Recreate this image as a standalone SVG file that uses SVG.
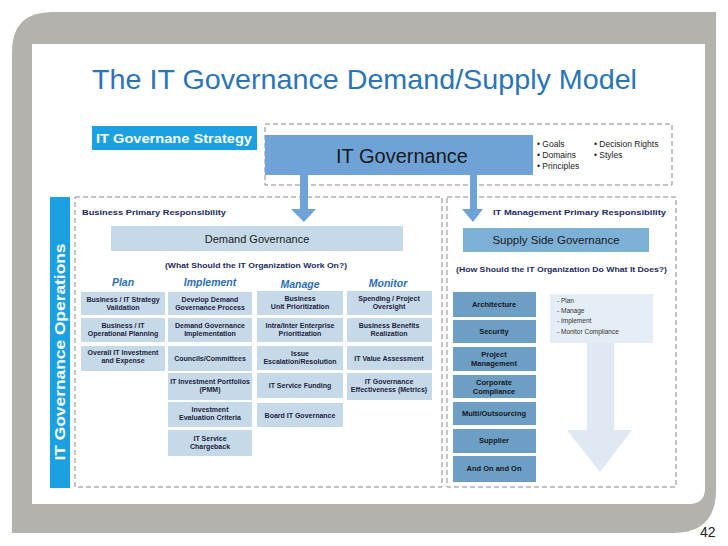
<svg xmlns="http://www.w3.org/2000/svg" width="728" height="546" viewBox="0 0 728 546">
<defs>
<style>
.bg{fill:#b4b2ac}
.dash{fill:none;stroke:#8a8a8a;stroke-width:1;stroke-dasharray:5 3}
.cell{fill:#c6d9e8}
.sup{fill:#6d9fc4}
.t{font-family:"Liberation Sans",Arial,sans-serif;font-weight:bold;font-size:7px;fill:#1d2340;text-anchor:middle}
.ts{font-family:"Liberation Sans",Arial,sans-serif;font-weight:bold;font-size:7.5px;fill:#15171c;text-anchor:middle}
.hd{font-family:"Liberation Sans",Arial,sans-serif;font-weight:bold;font-style:italic;font-size:10.5px;fill:#2a6fb3;text-anchor:middle}
.nv{font-family:"Liberation Sans",Arial,sans-serif;font-weight:bold;font-size:8px;fill:#1d2a5e}
.bul{font-family:"Liberation Sans",Arial,sans-serif;font-size:8.5px;fill:#222}
.arr{fill:#6fa3d8}
</style>
</defs>
<rect width="728" height="546" fill="#ffffff"/>
<path class="bg" d="M52,12 H716 V490 Q716,533 673,533 H12 V52 Q12,12 52,12 Z"/>
<path d="M32,44 H705 V488 Q705,504 689,504 H32 Z" fill="#ffffff"/>
<text x="92" y="89" font-family="Liberation Sans,Arial,sans-serif" font-size="28" fill="#2b74b6" textLength="545" lengthAdjust="spacingAndGlyphs">The IT Governance Demand/Supply Model</text>
<text x="700" y="537" font-family="Liberation Sans,Arial,sans-serif" font-size="14" fill="#222">42</text>

<g id="strategy-label">
<rect x="92" y="126" width="165" height="24" fill="#1ba0e2"/>
<text x="96" y="143" font-family="Liberation Sans,Arial,sans-serif" font-weight="bold" font-size="13" fill="#ffffff" textLength="156" lengthAdjust="spacingAndGlyphs">IT Governane Strategy</text>
</g>
<g id="strategy-box">
<rect class="dash" x="265" y="124" width="407" height="61"/>
</g>
<g id="it-governance">
<rect x="265" y="135" width="268" height="40" fill="#6fa3d8"/>
<text x="402" y="163" font-family="Liberation Sans,Arial,sans-serif" font-size="20" fill="#1a1a1a" text-anchor="middle">IT Governance</text>
</g>
<g id="governance-bullets">
<text class="bul" x="537" y="147">• Goals</text>
<text class="bul" x="537" y="158">• Domains</text>
<text class="bul" x="537" y="169">• Principles</text>
<text class="bul" x="594" y="147">• Decision Rights</text>
<text class="bul" x="594" y="158">• Styles</text>
</g>

<g id="operations-label">
<rect x="50" y="197" width="20" height="291" fill="#1ba0e2"/>
<text transform="translate(65,352) rotate(-90)" font-family="Liberation Sans,Arial,sans-serif" font-weight="bold" font-size="14.5" fill="#ffffff" text-anchor="middle" textLength="217" lengthAdjust="spacingAndGlyphs">IT Governance Operations</text>
</g>

<g id="business-area">
<rect class="dash" x="75" y="197" width="367" height="290"/>
<text class="nv" x="82" y="215" textLength="144" lengthAdjust="spacingAndGlyphs">Business Primary Responsibility</text>
</g>
<g id="it-mgmt-area">
<rect class="dash" x="447" y="197" width="229" height="290"/>
<text class="nv" x="493" y="215" textLength="173" lengthAdjust="spacingAndGlyphs">IT Management Primary Responsibility</text>
</g>

<g id="demand-governance">
<rect x="111" y="226" width="292" height="25" fill="#c6d9e8"/>
<text x="257" y="243" font-family="Liberation Sans,Arial,sans-serif" font-size="11" fill="#1a1a1a" text-anchor="middle">Demand Governance</text>
<text class="nv" x="165" y="268" textLength="182" lengthAdjust="spacingAndGlyphs">(What Should the IT Organization Work On?)</text>
</g>

<g id="headers">
<text class="hd" x="123" y="286">Plan</text>
<text class="hd" x="210" y="286">Implement</text>
<text class="hd" x="300" y="288">Manage</text>
<text class="hd" x="388" y="287">Monitor</text>
</g>

<g id="plan-1"><rect class="cell" x="81" y="292" width="84" height="23"/><text class="t" x="123" y="302">Business / IT Strategy</text><text class="t" x="123" y="310">Validation</text></g>
<g id="plan-2"><rect class="cell" x="81" y="318" width="84" height="24"/><text class="t" x="123" y="328">Business / IT</text><text class="t" x="123" y="336">Operational Planning</text></g>
<g id="plan-3"><rect class="cell" x="81" y="346" width="84" height="25"/><text class="t" x="123" y="355">Overall IT Investment</text><text class="t" x="123" y="363">and Expense</text></g>

<g id="impl-1"><rect class="cell" x="168" y="292" width="84" height="23"/><text class="t" x="210" y="302">Develop Demand</text><text class="t" x="210" y="310">Governance Process</text></g>
<g id="impl-2"><rect class="cell" x="168" y="318" width="84" height="24"/><text class="t" x="210" y="328">Demand Governance</text><text class="t" x="210" y="336">Implementation</text></g>
<g id="impl-3"><rect class="cell" x="168" y="346" width="84" height="25"/><text class="t" x="210" y="361">Councils/Committees</text></g>
<g id="impl-4"><rect class="cell" x="168" y="373" width="84" height="27"/><text class="t" x="210" y="384">IT Investment Portfolios</text><text class="t" x="210" y="392">(PMM)</text></g>
<g id="impl-5"><rect class="cell" x="168" y="402" width="84" height="25"/><text class="t" x="210" y="412">Investment</text><text class="t" x="210" y="420">Evaluation Criteria</text></g>
<g id="impl-6"><rect class="cell" x="168" y="430" width="84" height="26"/><text class="t" x="210" y="441">IT Service</text><text class="t" x="210" y="449">Chargeback</text></g>

<g id="manage-1"><rect class="cell" x="257" y="291" width="86" height="24"/><text class="t" x="300" y="301">Business</text><text class="t" x="300" y="309">Unit Prioritization</text></g>
<g id="manage-2"><rect class="cell" x="257" y="318" width="86" height="24"/><text class="t" x="300" y="328">Intra/Inter Enterprise</text><text class="t" x="300" y="336">Prioritization</text></g>
<g id="manage-3"><rect class="cell" x="257" y="346" width="86" height="24"/><text class="t" x="300" y="356">Issue</text><text class="t" x="300" y="364">Escalation/Resolution</text></g>
<g id="manage-4"><rect class="cell" x="257" y="373" width="86" height="25"/><text class="t" x="300" y="388">IT Service Funding</text></g>
<g id="manage-5"><rect class="cell" x="257" y="403" width="86" height="24"/><text class="t" x="300" y="418">Board IT Governance</text></g>

<g id="monitor-1"><rect class="cell" x="347" y="291" width="85" height="24"/><text class="t" x="389" y="301">Spending / Project</text><text class="t" x="389" y="309">Oversight</text></g>
<g id="monitor-2"><rect class="cell" x="347" y="318" width="85" height="24"/><text class="t" x="389" y="328">Business Benefits</text><text class="t" x="389" y="336">Realization</text></g>
<g id="monitor-3"><rect class="cell" x="347" y="346" width="85" height="24"/><text class="t" x="389" y="361">IT Value Assessment</text></g>
<g id="monitor-4"><rect class="cell" x="347" y="373" width="85" height="27"/><text class="t" x="389" y="384">IT Governance</text><text class="t" x="389" y="392">Effectiveness (Metrics)</text></g>

<g id="supply-governance">
<rect x="463" y="228" width="186" height="24" fill="#7cb0d6"/>
<text x="556" y="244" font-family="Liberation Sans,Arial,sans-serif" font-size="11.5" fill="#1a1a1a" text-anchor="middle">Supply Side Governance</text>
<text class="nv" x="456" y="272" textLength="211" lengthAdjust="spacingAndGlyphs">(How Should the IT Organization Do What It Does?)</text>
</g>

<g id="sup-1"><rect class="sup" x="453" y="292" width="83" height="25"/><text class="ts" x="494" y="307">Architecture</text></g>
<g id="sup-2"><rect class="sup" x="453" y="320" width="83" height="23"/><text class="ts" x="494" y="334">Security</text></g>
<g id="sup-3"><rect class="sup" x="453" y="347" width="83" height="24"/><text class="ts" x="494" y="357">Project</text><text class="ts" x="494" y="366">Management</text></g>
<g id="sup-4"><rect class="sup" x="453" y="375" width="83" height="23"/><text class="ts" x="494" y="385">Corporate</text><text class="ts" x="494" y="394">Compliance</text></g>
<g id="sup-5"><rect class="sup" x="453" y="402" width="83" height="23"/><text class="ts" x="494" y="416">Multi/Outsourcing</text></g>
<g id="sup-6"><rect class="sup" x="453" y="429" width="83" height="24"/><text class="ts" x="494" y="443">Supplier</text></g>
<g id="sup-7"><rect class="sup" x="453" y="456" width="83" height="26"/><text class="ts" x="494" y="471">And On and On</text></g>

<g id="supply-list">
<rect x="550" y="294" width="103" height="49" fill="#e4edf6"/>
<path d="M587,343 H614 V430 H632 L600,472 L567,430 H587 Z" fill="#dfe9f4"/>
<g font-family="Liberation Sans,Arial,sans-serif" font-size="6.5" fill="#333">
<text x="557" y="303">- Plan</text>
<text x="557" y="313">- Manage</text>
<text x="557" y="323">- Implement</text>
<text x="557" y="334">- Monitor Compliance</text>
</g>
</g>

<g id="connectors">
<path class="arr" d="M300,175 H308 V209 H316 L304,222 L291,209 H300 Z"/>
<path class="arr" d="M470,175 H477 V209 H483 L473,222 L462,209 H470 Z"/>
</g>
</svg>
